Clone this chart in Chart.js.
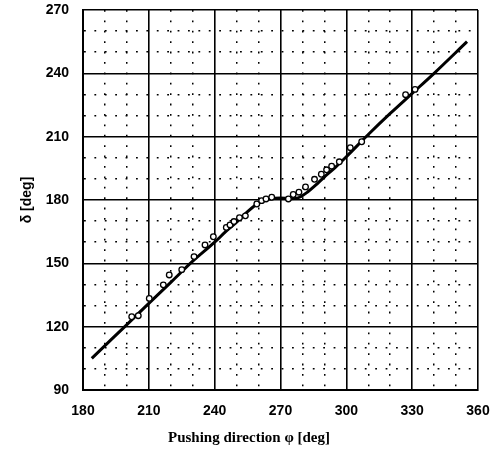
<!DOCTYPE html>
<html>
<head>
<meta charset="utf-8">
<script src="https://cdn.jsdelivr.net/npm/chart.js@4.4.1/dist/chart.umd.min.js"></script>
<style>
  body { margin: 0; background: #fff; }
  #wrap { width: 502px; height: 463px; }
</style>
</head>
<body>
<div id="wrap"><canvas id="chart" width="502" height="463"></canvas></div>
<script>
// Fitted curve (solid line)
let fitPhi   = [184, 200, 210, 220, 230, 240, 245, 250, 255, 260, 265, 270, 274, 278, 282, 286, 290, 295, 300, 310, 320, 330, 340, 355];
let fitDelta = [105, 121, 131, 141, 151, 160, 165, 169.5, 174.5, 178.5, 180.5, 181, 180.6, 181, 183.5, 187, 191, 195.5, 200.5, 211, 221, 230.5, 240, 255];

// Measured points (open circles)
let measPhi   = [202.2, 205.2, 210.2, 216.6, 219.3, 225, 230.6, 235.6, 239.4, 245.3, 247, 248.8, 251.3, 254, 259.2, 261.4, 263.4, 266, 273.6, 275.8, 278.4, 281.4, 285.5, 288.6, 291, 293.3, 296.8, 301.8, 307, 327, 331.3];
let measDelta = [124.7, 125.2, 133.4, 139.8, 144.5, 147, 153.2, 158.7, 162.6, 167, 168.2, 169.8, 171.6, 172.5, 178.1, 179.7, 180.5, 181.3, 180.5, 182.6, 183.7, 186.2, 189.8, 192.2, 194.3, 196, 198.1, 204.8, 207.6, 229.9, 232.4];

let xMin = 180, xMax = 360, yMin = 90, yMax = 270;
let majorStep = 30, minorStep = 10;

function toPoints(xs, ys) {
    return xs.map((x, i) => ({ x: x, y: ys[i] }));
}

function isMajor(ctx) {
    return !ctx.tick || ctx.tick.value % majorStep === 0;
}

let tickFont = { family: "'Liberation Sans', Arial, sans-serif", size: 14, weight: "bold" };

// same look for both axes: solid lines every 30, dotted every 10
function axisOpts(min, max) {
    return {
        type: "linear",
        min: min, max: max,
        ticks: {
            stepSize: minorStep,
            autoSkip: false,
            maxRotation: 0,
            color: "#000",
            font: tickFont,
            callback: v => (v % majorStep === 0 ? v : "")
        },
        grid: {
            color: "#000",
            lineWidth: ctx => (isMajor(ctx) ? 1.6 : 1.5),
            drawTicks: false
        },
        border: {
            color: "#000",
            width: 2,
            dash: ctx => (isMajor(ctx) ? [] : [1.8, 8.6])
        }
    };
}

let xAxis = axisOpts(xMin, xMax);
xAxis.position = "bottom";
xAxis.ticks.padding = 13;
xAxis.afterFit = scale => {
    scale.height = 73;
    scale.paddingLeft = 0;
    scale.paddingRight = 0;
};

let yAxis = axisOpts(yMin, yMax);
yAxis.position = "left";
yAxis.ticks.padding = 14;
yAxis.title = {
    display: true,
    text: "\u03B4 [deg]",
    color: "#000",
    font: { family: "'Liberation Sans', Arial, sans-serif", size: 14, weight: "bold" },
    padding: { top: 19, bottom: 0 }
};
yAxis.afterFit = scale => {
    scale.width = 83;
    scale.paddingTop = 0;
    scale.paddingBottom = 0;
};

// draws the x axis title a bit left of center, like the original
let xTitlePlugin = {
    id: "xTitle",
    afterDraw(chart) {
        let ctx = chart.ctx;
        ctx.save();
        ctx.fillStyle = "#000";
        ctx.font = "bold 15px 'Liberation Serif', 'Times New Roman', serif";
        ctx.textAlign = "center";
        ctx.textBaseline = "middle";
        ctx.fillText("Pushing direction \u03C6 [deg]", 249, 438);
        ctx.restore();
    }
};

new Chart(document.getElementById("chart"), {
    type: "scatter",
    data: {
        datasets: [
            {
                label: "fit",
                data: toPoints(fitPhi, fitDelta),
                showLine: true,
                borderColor: "#000",
                borderWidth: 3,
                pointRadius: 0,
                tension: 0.4,
                cubicInterpolationMode: "monotone",
                order: 2
            },
            {
                label: "measured",
                data: toPoints(measPhi, measDelta),
                showLine: false,
                pointStyle: "circle",
                pointRadius: 2.8,
                pointBorderWidth: 1.3,
                pointBorderColor: "#000",
                pointBackgroundColor: "#fff",
                order: 1
            }
        ]
    },
    options: {
        responsive: false,
        animation: false,
        layout: { padding: { left: 0, right: 24, top: 10, bottom: 0 } },
        plugins: {
            legend: { display: false },
            tooltip: { enabled: false }
        },
        scales: { x: xAxis, y: yAxis }
    },
    plugins: [xTitlePlugin]
});
</script>
</body>
</html>
